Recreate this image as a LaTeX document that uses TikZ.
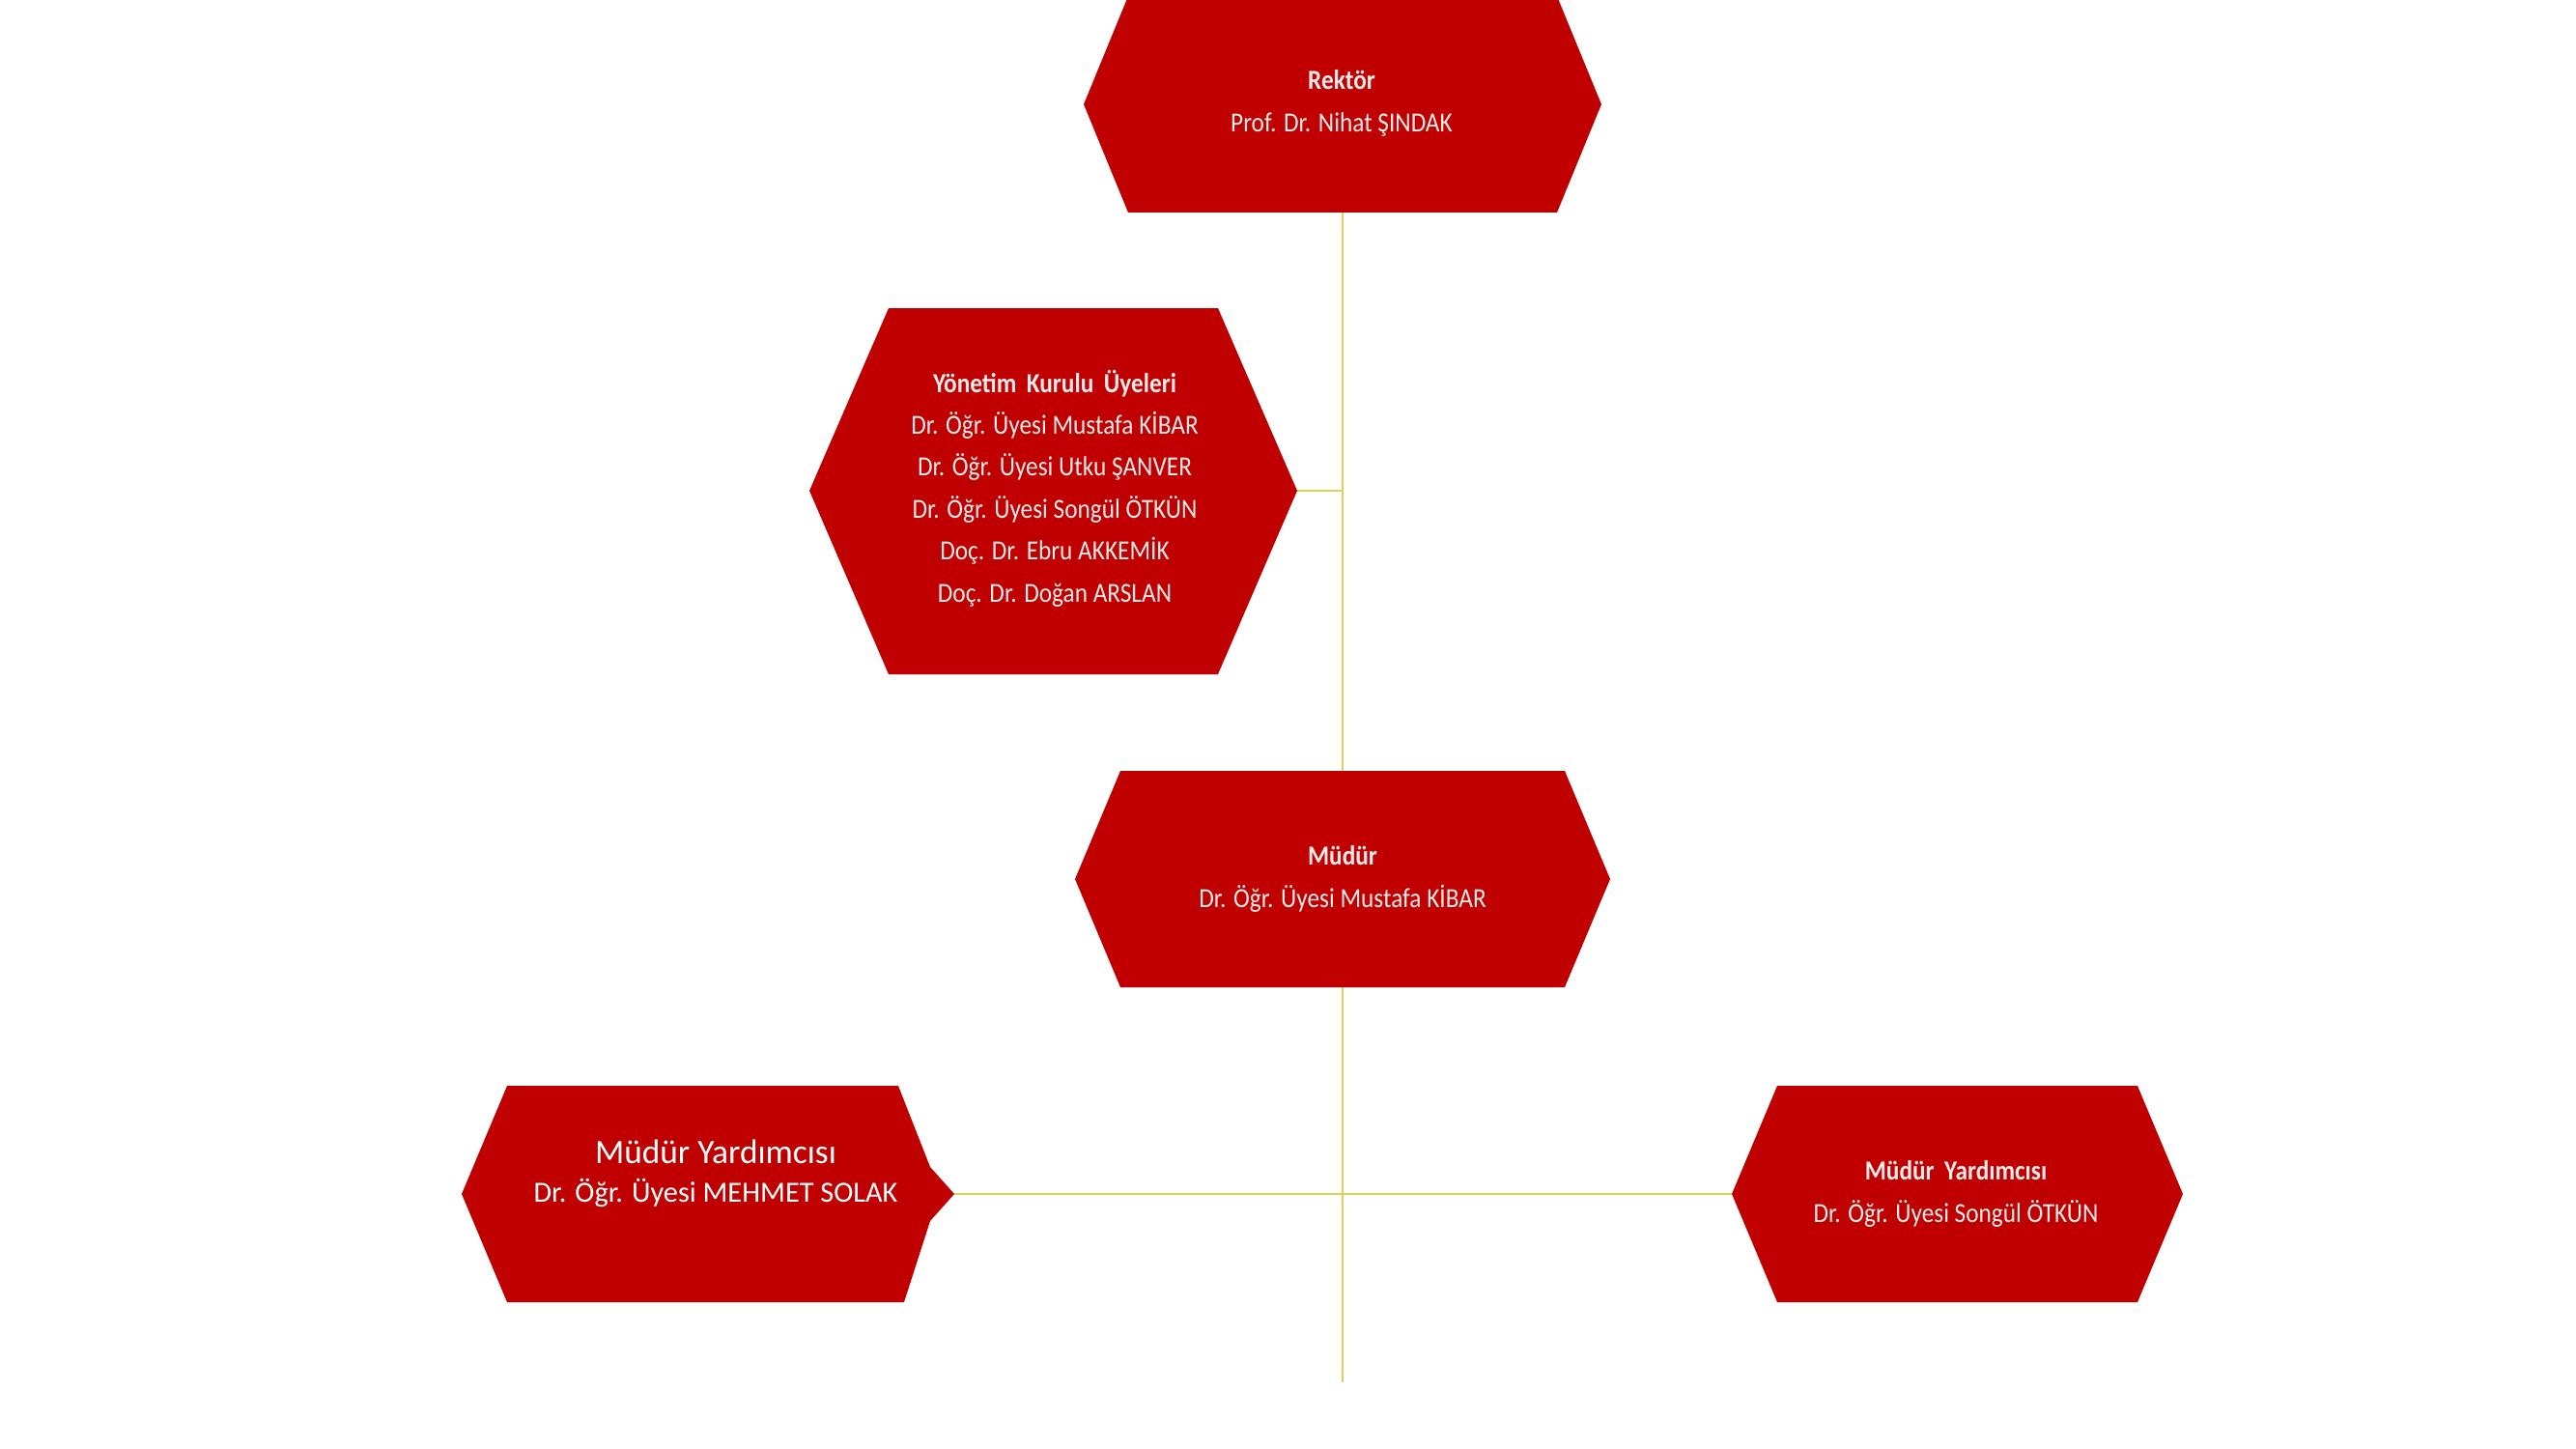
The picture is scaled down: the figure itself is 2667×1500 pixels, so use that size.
\documentclass[tikz,border=0pt]{standalone}
\usepackage{fontspec}
\setmainfont{Carlito}
\newfontfamily\condfont[FakeStretch=0.885]{Carlito}
\definecolor{boxred}{RGB}{192,0,0}
\definecolor{linkyellow}{RGB}{222,210,90}
\definecolor{boxtext}{RGB}{246,234,234}
\tikzset{
  hexbox/.style={fill=boxred, draw=none},
  conn/.style={draw=linkyellow, line width=2.2bp},
  cline/.style={anchor=base, inner sep=0pt, text=boxtext, font=\condfont\fontsize{28.7}{34}\selectfont},
  ctitle/.style={cline, font=\condfont\bfseries\fontsize{28.7}{34}\selectfont},
  plainbig/.style={anchor=base, inner sep=0pt, text=white, font=\fontsize{35.5}{40}\selectfont},
  plainsmall/.style={anchor=base, inner sep=0pt, text=white, font=\fontsize{30.4}{36}\selectfont}
}
\begin{document}
\begin{tikzpicture}[x=1bp,y=-1bp]
\useasboundingbox (0,0) rectangle (2667,1500);
\fill[white] (0,0) rectangle (2667,1500);

% hexagon vertices used by connectors
\coordinate (rek-s) at (1390,220);
\coordinate (yon-e) at (1343,508);
\coordinate (jyon) at (1390,508);
\coordinate (mud-n) at (1390,798);
\coordinate (mud-s) at (1390,1022);
\coordinate (trunkend) at (1390,1431);
\coordinate (myl-e) at (988,1236);
\coordinate (myr-w) at (1793,1236);

% connectors
\draw[conn] (rek-s) -- (mud-n);
\draw[conn] (yon-e) -- (jyon);
\draw[conn] (mud-s) -- (trunkend);
\draw[conn] (myl-e) -- (myr-w);

% Rektor
\path[hexbox] (1122,108) -- (1168,-4) -- (1612,-4) -- (1658,108) -- (1612,220) -- (1168,220) -- cycle;
\node[ctitle] (rektorA) at (1389,93) {Rektör};
\node[cline] (rektorB) at (1389,137) {Prof. Dr. Nihat ŞINDAK};

% Yonetim Kurulu
\path[hexbox] (838,508) -- (920,319) -- (1261,319) -- (1343,508) -- (1261,698) -- (920,698) -- cycle;
\node[ctitle] (yonA) at (1092,406) {Yönetim\, Kurulu\, Üyeleri};
\node[cline] (yonB) at (1092,449.4) {Dr. Öğr. Üyesi Mustafa KİBAR};
\node[cline] (yonC) at (1092,492.8) {Dr. Öğr. Üyesi Utku ŞANVER};
\node[cline] (yonD) at (1092,536.2) {Dr. Öğr. Üyesi Songül ÖTKÜN};
\node[cline] (yonE) at (1092,579.6) {Doç. Dr. Ebru AKKEMİK};
\node[cline] (yonF) at (1092,623) {Doç. Dr. Doğan ARSLAN};

% Mudur
\path[hexbox] (1113,910) -- (1160,798) -- (1620,798) -- (1667,910) -- (1620,1022) -- (1160,1022) -- cycle;
\node[ctitle] (mudA) at (1390,895) {Müdür};
\node[cline] (mudB) at (1390,939) {Dr. Öğr. Üyesi Mustafa KİBAR};

% Mudur Yardimcisi (left)
\path[hexbox] (478,1236) -- (525,1124) -- (930,1124) -- (963,1208) -- (988,1236) -- (963,1264) -- (936,1348) -- (525,1348) -- cycle;
\node[plainbig] (mylA) at (741,1204) {Müdür Yardımcısı};
\node[plainsmall] (mylB) at (741,1244) {Dr. Öğr. Üyesi MEHMET SOLAK};

% Mudur Yardimcisi (right)
\path[hexbox] (1793,1236) -- (1840,1124) -- (2213,1124) -- (2260,1236) -- (2213,1348) -- (1840,1348) -- cycle;
\node[ctitle] (myrA) at (2025,1221) {Müdür\, Yardımcısı};
\node[cline] (myrB) at (2025,1265) {Dr. Öğr. Üyesi Songül ÖTKÜN};
\end{tikzpicture}
\end{document}
